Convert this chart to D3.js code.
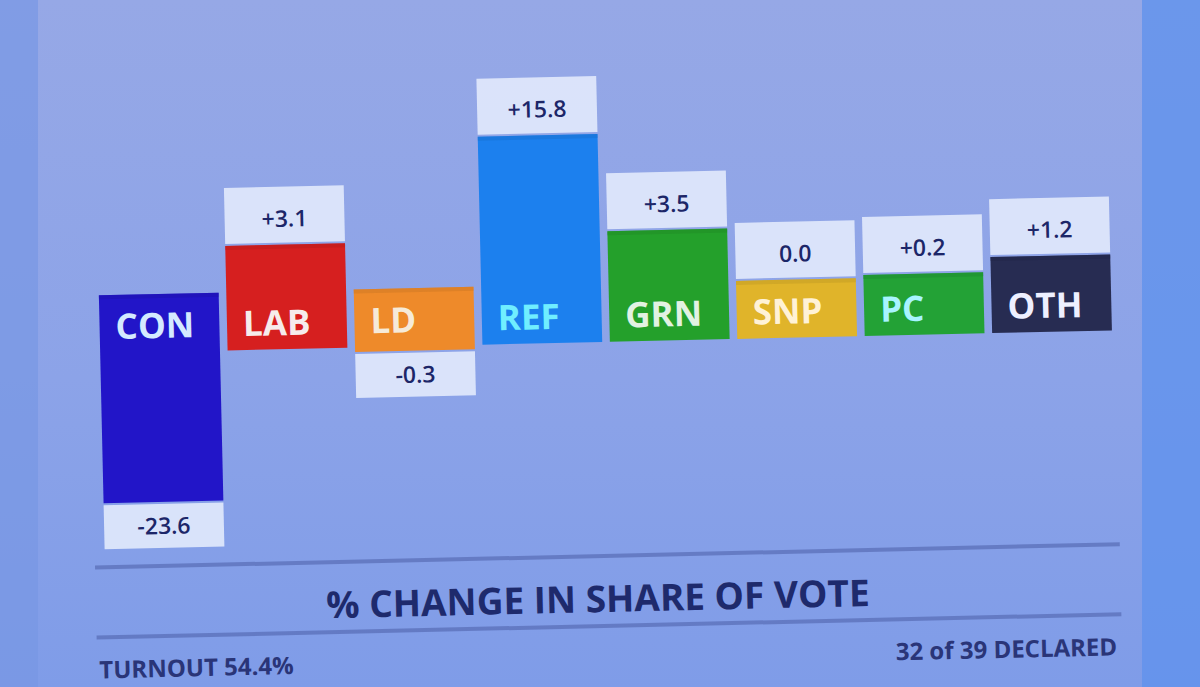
<!DOCTYPE html>
<html>
<head>
<meta charset="utf-8">
<script src="https://cdn.jsdelivr.net/npm/d3@7"></script>
<style>
  html, body { margin: 0; padding: 0; background: #8aa0e6; }
  svg { display: block; }
</style>
</head>
<body>
<script>
// ---- data ----
const parties = ["CON", "LAB", "LD", "REF", "GRN", "SNP", "PC", "OTH"];
const changes = [-23.6, 3.1, -0.3, 15.8, 3.5, 0.0, 0.2, 1.2];
const chartTitle = "% CHANGE IN SHARE OF VOTE";
const turnoutText = "TURNOUT 54.4%";
const declaredText = "32 of 39 DECLARED";

// ---- styles ----
const partyColors = ["#2215c8", "#d61f1f", "#ee8a2a", "#1c80ee", "#24a02b", "#e0b42a", "#23a236", "#272c52"];
const labelColors = ["#d4eaff", "#f6ecec", "#f6ead8", "#70eeff", "#e2f2e2", "#fff2d6", "#a8f4ff", "#eef0ff"];

const W = 1200, H = 687;
const svg = d3.select("body").append("svg").attr("width", W).attr("height", H);

// background
const defs = svg.append("defs");
const bg = defs.append("linearGradient").attr("id", "bg").attr("x1", 0).attr("y1", 0).attr("x2", 0).attr("y2", 1);
bg.append("stop").attr("offset", "0%").attr("stop-color", "#96a8e6");
bg.append("stop").attr("offset", "55%").attr("stop-color", "#8ca3e8");
bg.append("stop").attr("offset", "100%").attr("stop-color", "#7f9ce8");
svg.append("rect").attr("width", W).attr("height", H).attr("fill", "url(#bg)");
// side strips
svg.append("rect").attr("x", 0).attr("y", 0).attr("width", 38).attr("height", H).attr("fill", "#7897e4").attr("opacity", 0.7);
svg.append("rect").attr("x", 1142).attr("y", 0).attr("width", 58).attr("height", H).attr("fill", "#6092ec").attr("opacity", 0.8);

const g = svg.append("g").attr("transform", "rotate(-1.3,600,340)");

// scales
const x = d3.scaleBand().domain(parties).range([100, 1112]).paddingInner(0.06).paddingOuter(0);
const ext = d3.scaleLinear().domain([0, 10]).range([0, 150]).clamp(true);
const bandTop = 284, bandBottom = 342;
const fmt = v => v === 0 ? "0.0" : d3.format("+.1f")(v).replace("\u2212", "-");

const data = parties.map((p, i) => ({ party: p, value: changes[i], i }));

const bars = g.selectAll("g.bar").data(data).join("g").attr("class", "bar");

bars.append("rect")
  .attr("x", d => x(d.party))
  .attr("width", x.bandwidth())
  .attr("y", d => d.value >= 0 ? bandTop - ext(d.value) : bandTop)
  .attr("height", d => (bandBottom - bandTop) + ext(Math.abs(d.value)))
  .attr("fill", d => partyColors[d.i]);

// darker edge stripe at top of bar
bars.append("rect")
  .attr("x", d => x(d.party))
  .attr("width", x.bandwidth())
  .attr("y", d => d.value >= 0 ? bandTop - ext(d.value) : bandTop)
  .attr("height", 4)
  .attr("fill", d => d3.color(partyColors[d.i]).darker(0.4))
  .attr("opacity", 0.5);

// party labels
bars.append("text")
  .attr("x", d => x(d.party) + 16)
  .attr("y", bandTop + 44)
  .attr("fill", d => labelColors[d.i])
  .attr("font-family", "'Open Sans', sans-serif")
  .attr("font-weight", 700)
  .attr("font-size", 35)
  .text(d => d.party);

// value boxes
const boxH = d => d.value >= 0 ? 56 : 44;
const boxY = d => d.value >= 0 ? bandTop - ext(d.value) - 58 : bandBottom + ext(-d.value) + 2;
bars.append("rect")
  .attr("x", d => x(d.party))
  .attr("width", x.bandwidth())
  .attr("y", boxY)
  .attr("height", boxH)
  .attr("fill", "#e2eafc")
  .attr("opacity", 0.9);

bars.append("text")
  .attr("x", d => x(d.party) + x.bandwidth() / 2)
  .attr("y", d => boxY(d) + boxH(d) / 2 + (d.value >= 0 ? 4 : 0))
  .attr("dy", "0.35em")
  .attr("text-anchor", "middle")
  .attr("fill", "#1c2668")
  .attr("font-family", "'Open Sans', sans-serif")
  .attr("font-weight", 600)
  .attr("font-size", 23)
  .text(d => fmt(d.value));

// bottom rules
[556, 626].forEach(yy => {
  g.append("line").attr("x1", 90).attr("x2", 1115).attr("y1", yy).attr("y2", yy)
    .attr("stroke", "#4c5fa8").attr("stroke-width", 4).attr("opacity", 0.55);
});

g.append("text")
  .attr("x", 592).attr("y", 612)
  .attr("text-anchor", "middle")
  .attr("fill", "#1e2a6c")
  .attr("font-family", "'Open Sans', sans-serif")
  .attr("font-weight", 700)
  .attr("font-size", 37)
  .text(chartTitle);

g.append("text")
  .attr("x", 92).attr("y", 667)
  .attr("fill", "#2a3578")
  .attr("font-family", "'Open Sans', sans-serif")
  .attr("font-weight", 700)
  .attr("font-size", 24)
  .text(turnoutText);

g.append("text")
  .attr("x", 1110).attr("y", 667)
  .attr("text-anchor", "end")
  .attr("fill", "#2a3578")
  .attr("font-family", "'Open Sans', sans-serif")
  .attr("font-weight", 700)
  .attr("font-size", 24)
  .text(declaredText);
</script>
</body>
</html>
